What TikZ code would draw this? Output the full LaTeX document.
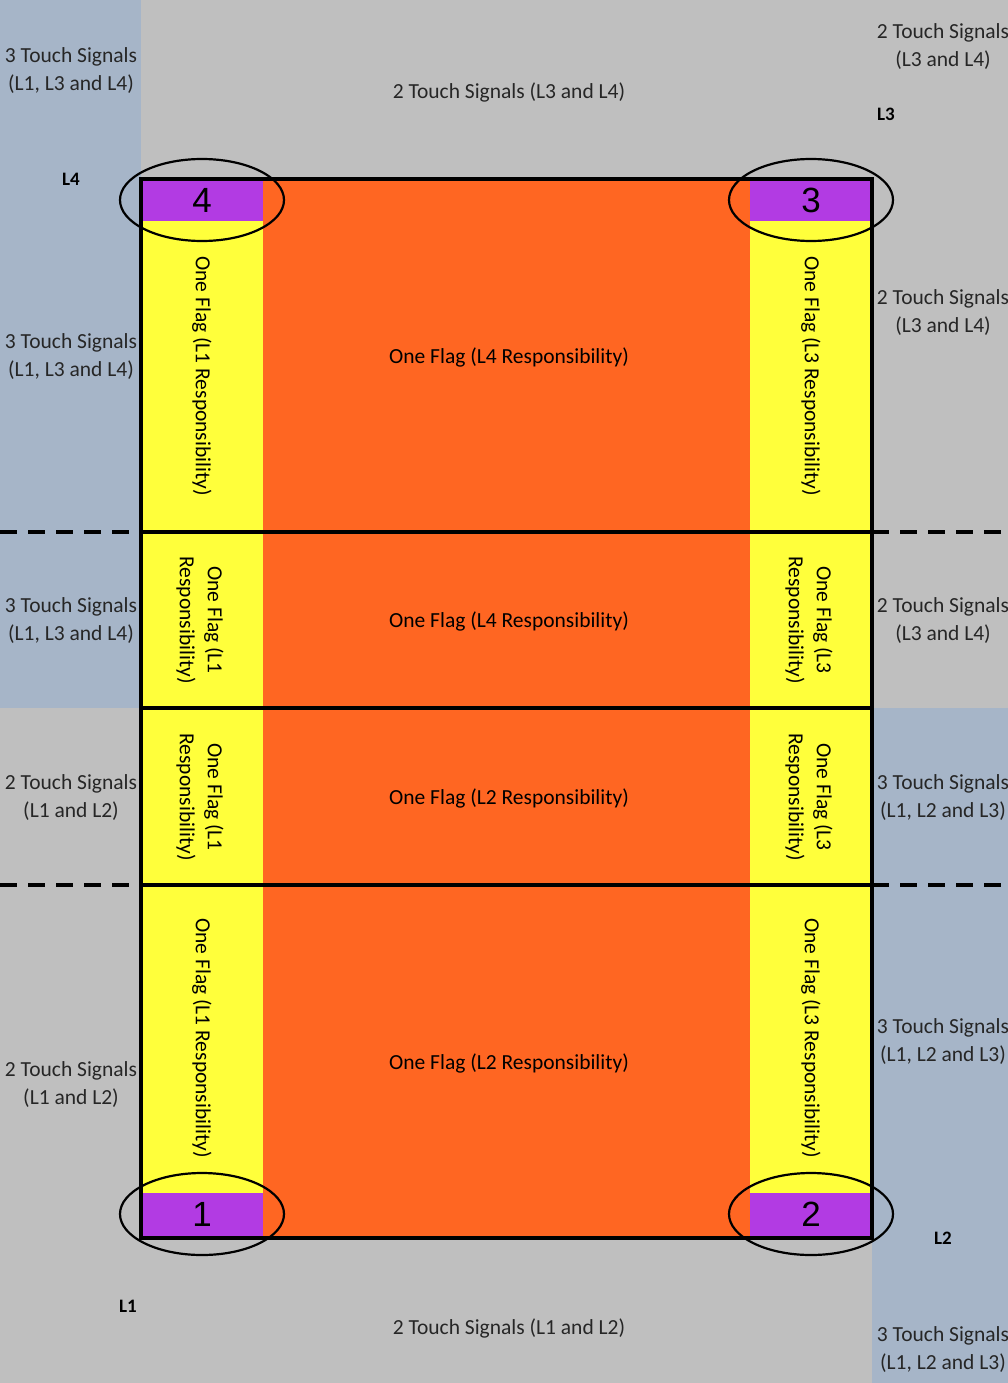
\documentclass[tikz,border=0pt]{standalone}
\usepackage{fontspec}
\setmainfont{Carlito}
\newfontfamily\numfont{Liberation Sans}
\usetikzlibrary{positioning}
\usetikzlibrary{shapes.geometric}
\definecolor{fieldgray}{HTML}{BFBFBF}
\definecolor{sideblue}{HTML}{A6B5C8}
\definecolor{flagorange}{HTML}{FF6622}
\definecolor{flagyellow}{HTML}{FFFF3B}
\definecolor{cornerpurple}{HTML}{B23BE3}
\definecolor{textgray}{HTML}{262626}

\begin{document}
\begin{tikzpicture}[x=1pt, y=-1pt,
    txt/.style = {text=textgray, font=\fontsize{21.5}{28}\selectfont, align=center, inner sep=0pt},
    lbl/.style = {text=black, font=\bfseries\fontsize{19}{20}\selectfont, inner sep=0pt},
    flag/.style = {txt, text=black, rotate=-90},
    corner/.style = {draw, ellipse, line width=2.2pt, minimum width=164pt, minimum height=82pt,
        inner sep=0pt, font=\numfont\fontsize{35}{35}\selectfont},
    split/.style = {line width=3.6pt},
    sideline/.style = {line width=3.6pt, dash pattern=on 17pt off 11pt}]
    \useasboundingbox (0,0) rectangle (1008,1383);

    % background
    \fill[fieldgray] (0,0) rectangle (1008,1383);
    \fill[sideblue] (0,0) rectangle (141,708);
    \fill[sideblue] (872,708) rectangle (1008,1383);

    % field
    \fill[flagorange] (141,179) rectangle (872,1238);
    \fill[flagyellow] (141,179) rectangle (263,1238);
    \fill[flagyellow] (750,179) rectangle (872,1238);
    \fill[cornerpurple] (141,179) rectangle (263,221);
    \fill[cornerpurple] (750,179) rectangle (872,221);
    \fill[cornerpurple] (141,1193) rectangle (263,1238);
    \fill[cornerpurple] (750,1193) rectangle (872,1238);

    \draw[split] (141,532) -- (872,532);
    \draw[split] (141,708) -- (872,708);
    \draw[split] (141,885) -- (872,885);
    \draw[sideline] (0,532) -- (141,532);
    \draw[sideline] (872,532) -- (1008,532);
    \draw[sideline] (0,885) -- (141,885);
    \draw[sideline] (872,885) -- (1008,885);
    \draw[line width=4pt] (141,179) rectangle (872,1238);

    % corners
    \node[corner] (c4) at (202,200) {4};
    \node[corner] (c3) at (811,200) {3};
    \node[corner] (c1) at (202,1214) {1};
    \node[corner] (c2) at (811,1214) {2};

    % markers
    \node[lbl] (L4) at (71,179) {L4};
    \node[lbl] (L3) at (886,114) {L3};
    \node[lbl] (L1) at (128,1306) {L1};
    \node[lbl] (L2) at (943,1238) {L2};

    % outside zones
    \node[txt] (topleft) at (71,71) {3 Touch Signals\\(L1, L3 and L4)};
    \node[txt] (top) at (509,92) {2 Touch Signals (L3 and L4)};
    \node[txt] (topright) at (943,47) {2 Touch Signals\\(L3 and L4)};
    \node[txt] (leftA) at (71,357) {3 Touch Signals\\(L1, L3 and L4)};
    \node[txt] (rightA) at (943,313) {2 Touch Signals\\(L3 and L4)};
    \node[txt] (leftB) at (71,621) {3 Touch Signals\\(L1, L3 and L4)};
    \node[txt] (rightB) at (943,621) {2 Touch Signals\\(L3 and L4)};
    \node[txt] (leftC) at (71,798) {2 Touch Signals\\(L1 and L2)};
    \node[txt] (rightC) at (943,798) {3 Touch Signals\\(L1, L2 and L3)};
    \node[txt] (leftD) at (71,1085) {2 Touch Signals\\(L1 and L2)};
    \node[txt] (rightD) at (943,1042) {3 Touch Signals\\(L1, L2 and L3)};
    \node[txt] (bottom) at (509,1328) {2 Touch Signals (L1 and L2)};
    \node[txt] (bottomright) at (943,1350) {3 Touch Signals\\(L1, L2 and L3)};

    % field zones
    \node[txt, text=black] (midA) at (509,357) {One Flag (L4 Responsibility)};
    \node[txt, text=black] (midB) at (509,621) {One Flag (L4 Responsibility)};
    \node[txt, text=black] (midC) at (509,798) {One Flag (L2 Responsibility)};
    \node[txt, text=black] (midD) at (509,1063) {One Flag (L2 Responsibility)};
    \node[flag] (flagLA) at (202,376) {One Flag (L1 Responsibility)};
    \node[flag] (flagRA) at (811,376) {One Flag (L3 Responsibility)};
    \node[flag] (flagLB) at (200,620) {One Flag (L1\\Responsibility)};
    \node[flag] (flagRB) at (809,620) {One Flag (L3\\Responsibility)};
    \node[flag] (flagLC) at (200,797) {One Flag (L1\\Responsibility)};
    \node[flag] (flagRC) at (809,797) {One Flag (L3\\Responsibility)};
    \node[flag] (flagLD) at (202,1038) {One Flag (L1 Responsibility)};
    \node[flag] (flagRD) at (811,1038) {One Flag (L3 Responsibility)};

\end{tikzpicture}
\end{document}
